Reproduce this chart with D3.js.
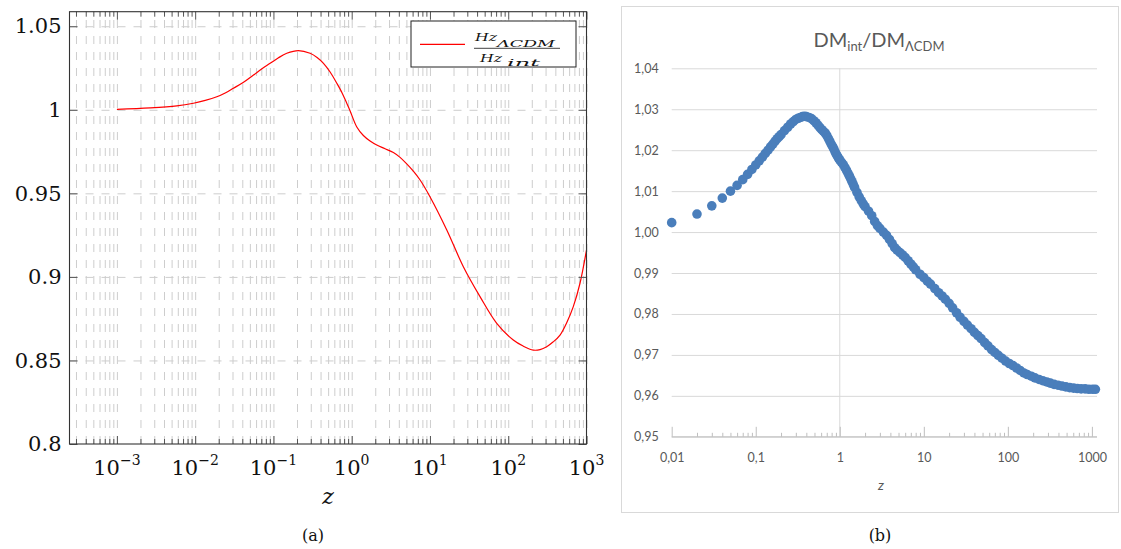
<!DOCTYPE html>
<html><head><meta charset="utf-8">
<script src="https://cdn.jsdelivr.net/npm/d3@7"></script>
<style>body{margin:0;background:#fff}svg{display:block}</style>
</head><body>
<svg id="c" width="1121" height="549"></svg>
<script>
// ---------- Panel (a): H ratio curve ----------
const zA = [0.001, 0.00266, 0.00583, 0.0095, 0.01346, 0.0189, 0.02421, 0.0308, 0.04102, 0.0556, 0.07063, 0.0908, 0.1148, 0.148, 0.2085, 0.294, 0.361, 0.436, 0.530, 0.645, 0.754, 0.865, 0.955, 1.162, 1.41, 1.717, 2.09, 2.67, 3.41, 4.15, 5.05, 6.09, 7.48, 10.0, 16.4, 26.7, 43.6, 71.3, 116, 155, 209, 255, 310, 373, 459, 564, 678, 826, 1000];
const ratioA = [1.0003, 1.0011, 1.0023, 1.0039, 1.0056, 1.0078, 1.0101, 1.0129, 1.0163, 1.0208, 1.0244, 1.0278, 1.0310, 1.0338, 1.0354, 1.0338, 1.0313, 1.0278, 1.0226, 1.0159, 1.0101, 1.0039, 0.9993, 0.9897, 0.9846, 0.9813, 0.9789, 0.9767, 0.9744, 0.9715, 0.9676, 0.9634, 0.9580, 0.9480, 0.9281, 0.9061, 0.8882, 0.8722, 0.8622, 0.8586, 0.8562, 0.8565, 0.8582, 0.8610, 0.8652, 0.8730, 0.8822, 0.8962, 0.9161];
const yTicksA = [0.8, 0.85, 0.9, 0.95, 1, 1.05];
const yTickLabelsA = ["0.8", "0.85", "0.9", "0.95", "1", "1.05"];
const xExpA = [-3, -2, -1, 0, 1, 2, 3];

// ---------- Panel (b): DM ratio scatter ----------
const zB = [0.01, 0.02, 0.03, 0.04, 0.05, 0.06, 0.07, 0.08, 0.09, 0.10, 0.11, 0.12, 0.13, 0.14, 0.15, 0.16, 0.17, 0.18, 0.19, 0.20, 0.22, 0.24, 0.26, 0.28, 0.30, 0.32, 0.34, 0.36, 0.38, 0.40, 0.43, 0.46, 0.49, 0.52, 0.55, 0.58, 0.61, 0.64, 0.67, 0.70, 0.73, 0.76, 0.79, 0.82, 0.85, 0.88, 0.91, 0.94, 0.97, 1.00, 1.05, 1.10, 1.15, 1.20, 1.25, 1.30, 1.35, 1.40, 1.45, 1.50, 1.60, 1.70, 1.80, 1.90, 2.00, 2.20, 2.40, 2.60, 2.80, 3.00, 3.30, 3.60, 3.90, 4.20, 4.50, 4.80, 5.20, 5.60, 6.00, 6.50, 7.00, 7.50, 8.00, 9.00, 10.0, 11.0, 12.0, 13.5, 15.0, 16.5, 18.0, 20.0, 22.0, 24.5, 27.0, 30.0, 33.0, 36.5, 40.0, 44.0, 48.0, 53.0, 58.0, 64.0, 70.0, 77.0, 85.0, 94.0, 104, 115, 127, 140, 155, 170, 190, 210, 235, 260, 290, 320, 355, 395, 440, 490, 545, 605, 670, 745, 830, 920, 1020, 1100];
const ratioB = [1.0023, 1.0044, 1.0064, 1.0083, 1.0100, 1.0114, 1.0128, 1.0141, 1.0153, 1.0164, 1.0174, 1.0183, 1.0192, 1.0200, 1.0208, 1.0215, 1.0222, 1.0228, 1.0233, 1.0238, 1.0248, 1.0256, 1.0264, 1.0270, 1.0275, 1.0278, 1.0280, 1.0282, 1.0283, 1.0282, 1.0280, 1.0277, 1.0272, 1.0267, 1.0261, 1.0255, 1.0250, 1.0246, 1.0242, 1.0236, 1.0229, 1.0222, 1.0215, 1.0209, 1.0203, 1.0196, 1.0190, 1.0185, 1.0180, 1.0176, 1.0170, 1.0165, 1.0158, 1.0151, 1.0144, 1.0137, 1.0130, 1.0123, 1.0116, 1.0109, 1.0097, 1.0086, 1.0077, 1.0069, 1.0062, 1.0051, 1.0040, 1.0026, 1.0016, 1.0009, 1.0000, 0.9992, 0.9982, 0.9972, 0.9962, 0.9956, 0.9950, 0.9944, 0.9938, 0.9930, 0.9922, 0.9915, 0.9908, 0.9897, 0.9889, 0.9880, 0.9873, 0.9862, 0.9852, 0.9844, 0.9836, 0.9826, 0.9815, 0.9803, 0.9792, 0.9782, 0.9773, 0.9764, 0.9755, 0.9747, 0.9740, 0.9730, 0.9722, 0.9713, 0.9706, 0.9699, 0.9692, 0.9685, 0.9679, 0.9674, 0.9668, 0.9662, 0.9656, 0.9652, 0.9648, 0.9644, 0.9640, 0.9637, 0.9634, 0.9631, 0.9628, 0.9626, 0.9624, 0.9622, 0.9620, 0.9619, 0.9618, 0.9617, 0.9617, 0.9616, 0.9616, 0.9616];
const yTicksB = [0.95, 0.96, 0.97, 0.98, 0.99, 1.00, 1.01, 1.02, 1.03, 1.04];
const xTicksB = [0.01, 0.1, 1, 10, 100, 1000];
const xTickLabelsB = ["0,01", "0,1", "1", "10", "100", "1000"];

const svg = d3.select("#c");
const serif = "DejaVu Serif";

// ================= Panel (a) =================
const A = {l: 69.5, r: 586.5, t: 11.7, b: 444};
const xA = d3.scaleLog().domain([2.48e-4, 1000]).range([A.l, A.r]);
const yA = d3.scaleLinear().domain([0.8, 1.0587]).range([A.b, A.t]);
const majorA = xExpA.map(e => Math.pow(10, e));
const minorA = [];
for (let k = -4; k <= 2; k++) for (let m = 2; m <= 9; m++) {
  const v = m * Math.pow(10, k);
  if (v > 2.48e-4 && v < 1000) minorA.push(v);
}

// grid
const gGridX = svg.append("g").attr("transform", `translate(0,${A.b})`)
  .call(d3.axisBottom(xA).tickValues(majorA.concat(minorA)).tickSize(-(A.b - A.t)).tickFormat(""));
gGridX.select(".domain").remove();
gGridX.selectAll("line").attr("stroke", "#cdcdcd").attr("stroke-dasharray", "8,8");
const gGridY = svg.append("g").attr("transform", `translate(${A.l},0)`)
  .call(d3.axisLeft(yA).tickValues(yTicksA.slice(1)).tickSize(-(A.r - A.l)).tickFormat(""));
gGridY.select(".domain").remove();
gGridY.selectAll("line").attr("stroke", "#cdcdcd").attr("stroke-dasharray", "8,8");

// curve
const lineA = d3.line().x(d => xA(d[0])).y(d => yA(d[1])).curve(d3.curveCatmullRom.alpha(0.5));
svg.append("path").datum(zA.map((z, i) => [z, ratioA[i]]))
  .attr("d", lineA).attr("fill", "none").attr("stroke", "#ff0000").attr("stroke-width", 1.2);

// ticks
function styleTicks(g, col) {
  g.select(".domain").remove();
  g.selectAll("line").attr("stroke", col);
}
const bMaj = svg.append("g").attr("transform", `translate(0,${A.b})`)
  .call(d3.axisBottom(xA).tickValues(majorA).tickSize(-8).tickPadding(0).tickFormat(""));
styleTicks(bMaj, "#555");
const bMin = svg.append("g").attr("transform", `translate(0,${A.b})`)
  .call(d3.axisBottom(xA).tickValues(minorA).tickSize(-5).tickFormat(""));
styleTicks(bMin, "#555");
const tMaj = svg.append("g").attr("transform", `translate(0,${A.t})`)
  .call(d3.axisTop(xA).tickValues(majorA).tickSize(-8).tickFormat(""));
styleTicks(tMaj, "#555");
const tMin = svg.append("g").attr("transform", `translate(0,${A.t})`)
  .call(d3.axisTop(xA).tickValues(minorA).tickSize(-5).tickFormat(""));
styleTicks(tMin, "#555");
const lAx = svg.append("g").attr("transform", `translate(${A.l},0)`)
  .call(d3.axisLeft(yA).tickValues(yTicksA).tickSize(-8).tickPadding(8)
    .tickFormat((d, i) => yTickLabelsA[i]));
styleTicks(lAx, "#555");
lAx.selectAll("text").attr("font-family", serif).attr("font-size", 21).attr("fill", "#111");
const rAx = svg.append("g").attr("transform", `translate(${A.r},0)`)
  .call(d3.axisRight(yA).tickValues(yTicksA).tickSize(-8).tickFormat(""));
styleTicks(rAx, "#555");

// x labels with superscripts
const xl = svg.append("g");
majorA.forEach((v, i) => {
  const t = xl.append("text").attr("x", xA(v)).attr("y", A.b + 31)
    .attr("text-anchor", "middle").attr("font-family", serif).attr("fill", "#111");
  t.append("tspan").attr("font-size", 21).text("10");
  t.append("tspan").attr("font-size", 14).attr("dy", -10)
    .text(xExpA[i] < 0 ? "\u2212" + Math.abs(xExpA[i]) : String(xExpA[i]));
});

// frame
svg.append("rect").attr("x", A.l).attr("y", A.t).attr("width", A.r - A.l).attr("height", A.b - A.t)
  .attr("fill", "none").attr("stroke", "#333").attr("stroke-width", 1.1);

// axis title + caption
svg.append("text").attr("x", (A.l + A.r) / 2).attr("y", 504).attr("text-anchor", "middle")
  .attr("font-family", serif).attr("font-style", "italic").attr("font-size", 22).attr("fill", "#111").text("z");
svg.append("text").attr("x", 313).attr("y", 541).attr("text-anchor", "middle")
  .attr("font-family", serif).attr("font-size", 16).attr("fill", "#111").text("(a)");

// legend
const lg = svg.append("g");
lg.append("rect").attr("x", 411).attr("y", 21).attr("width", 165).attr("height", 46)
  .attr("fill", "#fff").attr("stroke", "#222").attr("stroke-width", 1);
lg.append("line").attr("x1", 420).attr("x2", 465).attr("y1", 44.3).attr("y2", 44.3)
  .attr("stroke", "#ff0000").attr("stroke-width", 1.2);
lg.append("line").attr("x1", 474).attr("x2", 560).attr("y1", 48.3).attr("y2", 48.3)
  .attr("stroke", "#111").attr("stroke-width", 0.8);
function lt(x, y, s, len, fs) {
  lg.append("text").attr("x", x).attr("y", y).attr("font-family", serif).attr("font-style", "italic")
    .attr("font-size", fs).attr("fill", "#111").attr("textLength", len)
    .attr("lengthAdjust", "spacingAndGlyphs").text(s);
}
lt(475, 40.5, "Hz", 22, 11);
lt(497, 47, "\u039BCDM", 58, 10);
lt(480, 62, "Hz", 22, 11);
lt(507, 66, "int", 33, 10);

// ================= Panel (b) =================
const B = {l: 671.7, r: 1097, t: 68.3, b: 436.8};
const xB = d3.scaleLog().domain([0.01, 1150]).range([B.l, B.r]);
const yB = d3.scaleLinear().domain([0.95, 1.04]).range([B.b, B.t]);
const sans = "Lato";
const grayTxt = "#595959";

svg.append("rect").attr("x", 621.5).attr("y", 6.5).attr("width", 497).attr("height", 506)
  .attr("fill", "none").attr("stroke", "#d9d9d9");

// title
const title = svg.append("text").attr("x", 879).attr("y", 47).attr("text-anchor", "middle")
  .attr("font-family", sans).attr("font-size", 20).attr("fill", grayTxt);
title.append("tspan").text("DM");
title.append("tspan").attr("font-size", 13).attr("dy", 4).text("int");
title.append("tspan").attr("dy", -4).text("/DM");
title.append("tspan").attr("font-size", 13).attr("dy", 4).text("\u039BCDM");

// horizontal gridlines + y labels
const gyB = svg.append("g").attr("transform", `translate(${B.l},0)`)
  .call(d3.axisLeft(yB).tickValues(yTicksB).tickSize(-(B.r - B.l)).tickPadding(13)
    .tickFormat(d => d3.format(".2f")(d).replace(".", ",")));
gyB.select(".domain").remove();
gyB.selectAll("line").attr("stroke", "#d9d9d9");
gyB.selectAll("text").attr("font-family", sans).attr("font-size", 12.5).attr("fill", grayTxt);

// vertical line at z = 1
svg.append("line").attr("x1", xB(1)).attr("x2", xB(1)).attr("y1", B.t).attr("y2", B.b)
  .attr("stroke", "#d9d9d9");

// x axis
const minorB = [];
for (let k = -2; k <= 2; k++) for (let m = 2; m <= 9; m++) minorB.push(m * Math.pow(10, k));
const gxB = svg.append("g").attr("transform", `translate(0,${B.b})`)
  .call(d3.axisBottom(xB).tickValues(xTicksB).tickSize(-10).tickPadding(16)
    .tickFormat((d, i) => xTickLabelsB[i]));
gxB.select(".domain").attr("stroke", "#bfbfbf").attr("d", `M${B.l},0H${B.r}`);
gxB.selectAll("line").attr("stroke", "#bfbfbf");
gxB.selectAll("text").attr("font-family", sans).attr("font-size", 12.5).attr("fill", grayTxt);
const gxBm = svg.append("g").attr("transform", `translate(0,${B.b})`)
  .call(d3.axisBottom(xB).tickValues(minorB).tickSize(-4).tickFormat(""));
gxBm.select(".domain").remove();
gxBm.selectAll("line").attr("stroke", "#bfbfbf");

// points
svg.append("g").selectAll("circle").data(zB.map((z, i) => [z, ratioB[i]])).join("circle")
  .attr("cx", d => xB(d[0])).attr("cy", d => yB(d[1])).attr("r", 4.8).attr("fill", "#4a7ebb");

svg.append("text").attr("x", 881).attr("y", 490).attr("text-anchor", "middle")
  .attr("font-family", sans).attr("font-style", "italic").attr("font-size", 14).attr("fill", grayTxt).text("z");
svg.append("text").attr("x", 880).attr("y", 541).attr("text-anchor", "middle")
  .attr("font-family", serif).attr("font-size", 16).attr("fill", "#111").text("(b)");
</script>
</body></html>
